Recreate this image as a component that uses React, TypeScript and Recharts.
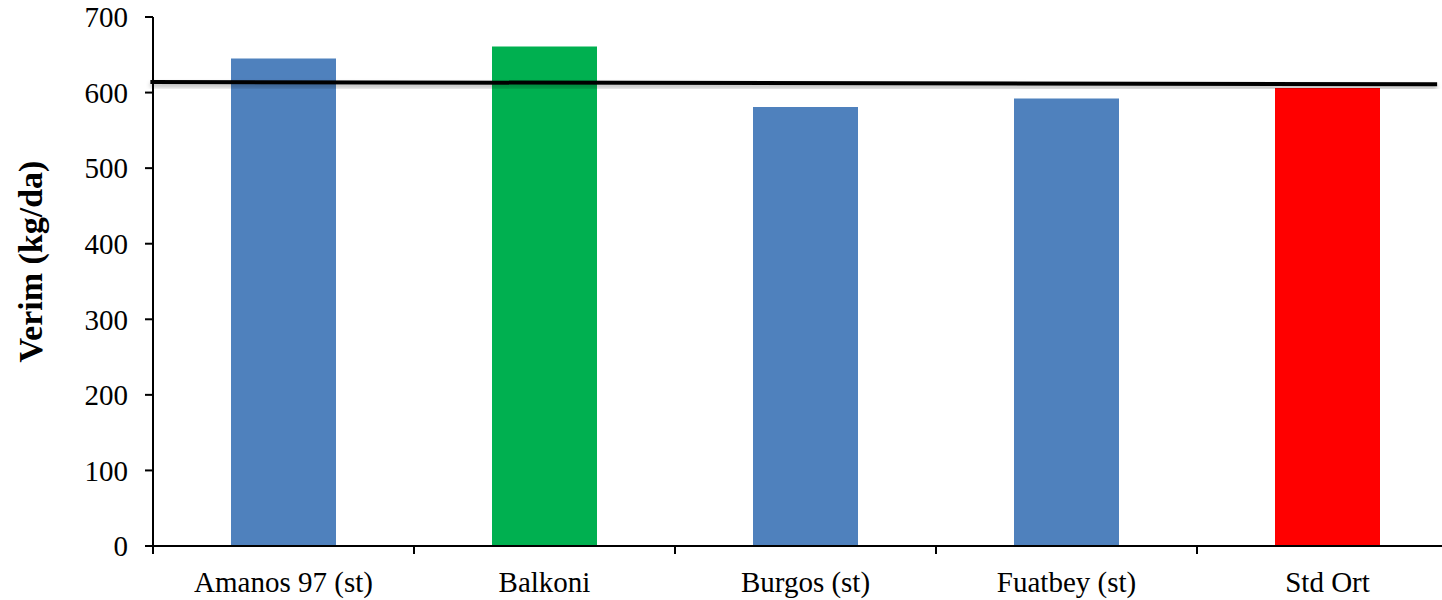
import { BarChart, Bar, XAxis, YAxis, Cell, ReferenceLine } from 'recharts';

// Verim (kg/da) per variety
const categories = ['Amanos 97 (st)', 'Balkoni', 'Burgos (st)', 'Fuatbey (st)', 'Std Ort'];
const yields = [645, 661, 581, 592, 606];
const barColors = ['#4F81BD', '#00B050', '#4F81BD', '#4F81BD', '#FF0000'];
const yTicks = [0, 100, 200, 300, 400, 500, 600, 700];
// category edges on a numeric axis (Excel-style ticks between categories)
const edgeTicks = [0, 1, 2, 3, 4, 5];
// black line drawn over the bars: start/end position (in category units) and value
const trendX = [-0.01, 4.92];
const trendY = [614, 611];

const data = categories.map((name, i) => ({ name, verim: yields[i], pos: i + 0.5 }));

const FONT = '"Liberation Serif", "Times New Roman", serif';

const YLabel = ({ viewBox }: any) => {
  const x = viewBox.x + 42;
  const y = viewBox.y + viewBox.height / 2 - 20;
  return (
    <text
      x={x}
      y={y}
      transform={`rotate(-90, ${x}, ${y})`}
      textAnchor="middle"
      fontFamily={FONT}
      fontWeight="bold"
      fontSize={34}
      fill="#000"
    >
      Verim (kg/da)
    </text>
  );
};

export default function App() {
  return (
    <div style={{ position: 'absolute', left: 0, top: 0, width: 1442, height: 600, overflow: 'hidden', background: '#fff' }}>
      <BarChart
        width={1442}
        height={600}
        data={data}
        margin={{ top: 17, right: -16, left: 0, bottom: 0 }}
        barSize={105}
      >
        <defs>
          <filter id="lineShadow" x="-5%" y="-200%" width="110%" height="500%">
            <feDropShadow dx="0" dy="3" stdDeviation="2" floodColor="#000" floodOpacity="0.3" />
          </filter>
        </defs>
        {/* axis line + boundary ticks, sits right on the plot */}
        <XAxis
          xAxisId={0}
          dataKey="pos"
          type="number"
          domain={[0, 5]}
          ticks={edgeTicks}
          height={1}
          tickFormatter={() => ''}
          tickSize={8}
          axisLine={{ stroke: '#000', strokeWidth: 2 }}
          tickLine={{ stroke: '#000', strokeWidth: 2 }}
          allowDataOverflow
        />
        {/* category names only */}
        <XAxis
          xAxisId="cat"
          dataKey="name"
          height={53}
          axisLine={false}
          tickLine={false}
          tickSize={8}
          tickMargin={16}
          interval={0}
          tick={{ fill: '#000', fontSize: 29, fontFamily: FONT }}
        />
        <YAxis
          width={153}
          domain={[0, 700]}
          ticks={yTicks}
          tickSize={8}
          tickMargin={17}
          axisLine={{ stroke: '#000', strokeWidth: 2 }}
          tickLine={{ stroke: '#000', strokeWidth: 2 }}
          tick={{ fill: '#000', fontSize: 29, fontFamily: FONT }}
          label={<YLabel />}
        />
        <Bar xAxisId="cat" dataKey="verim" isAnimationActive={false}>
          {data.map((d, i) => (
            <Cell key={d.name} fill={barColors[i]} />
          ))}
        </Bar>
        <ReferenceLine
          xAxisId={0}
          ifOverflow="visible"
          segment={[
            { x: trendX[0], y: trendY[0] },
            { x: trendX[1], y: trendY[1] },
          ]}
          stroke="#000"
          strokeWidth={4}
          filter="url(#lineShadow)"
        />
      </BarChart>
    </div>
  );
}
